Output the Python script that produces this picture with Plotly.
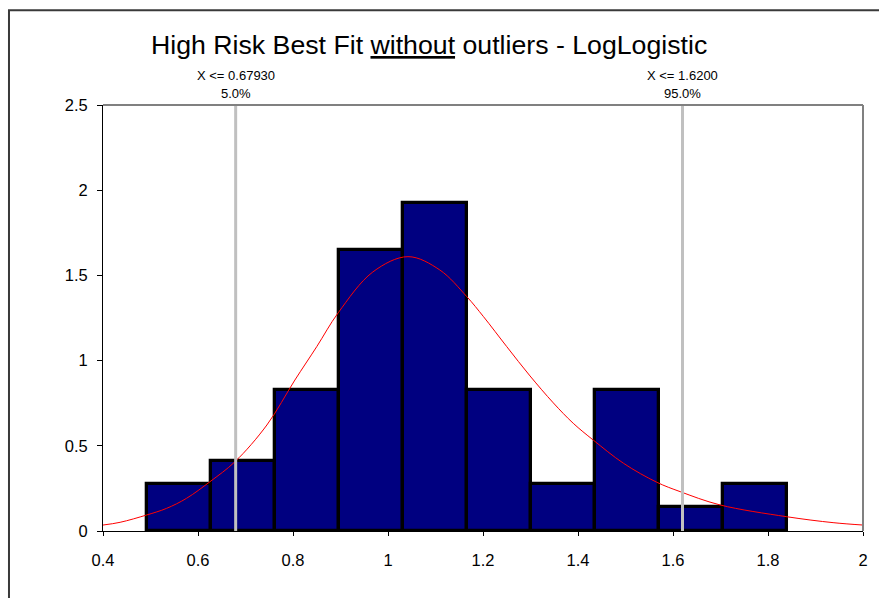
import plotly.graph_objects as go

# Histogram of the high-risk sample (density scale), bins of equal width
bin_start = 0.4933
bin_width = 0.1346
bin_density = [0.275, 0.413, 0.826, 1.651, 1.926, 0.826, 0.275, 0.826, 0.138, 0.275]

# Fitted LogLogistic density, sampled along x
fit_x = [0.400, 0.436, 0.492, 0.534, 0.576, 0.625, 0.678, 0.745, 0.804, 0.850, 0.895,
         0.968, 1.042, 1.109, 1.166, 1.201, 1.250, 1.299, 1.348, 1.390, 1.432, 1.496,
         1.566, 1.615, 1.699, 1.839, 1.937, 2.000]
fit_y = [0.035, 0.051, 0.094, 0.133, 0.192, 0.289, 0.407, 0.622, 0.886, 1.082, 1.280,
         1.520, 1.610, 1.532, 1.375, 1.258, 1.082, 0.910, 0.752, 0.632, 0.534, 0.397,
         0.286, 0.231, 0.153, 0.084, 0.049, 0.035]

# 5% and 95% percentile markers
pct_x = [0.67930, 1.6200]
pct_label = ["X <= 0.67930", "X <= 1.6200"]
pct_level = ["5.0%", "95.0%"]

x_ticks = [0.4, 0.6, 0.8, 1.0, 1.2, 1.4, 1.6, 1.8, 2.0]
x_ticktext = ["0.4", "0.6", "0.8", "1", "1.2", "1.4", "1.6", "1.8", "2"]
y_ticks = [0, 0.5, 1.0, 1.5, 2.0, 2.5]
y_ticktext = ["0", "0.5", "1", "1.5", "2", "2.5"]

FONT = "Arial, Liberation Sans, sans-serif"

bin_centers = [bin_start + bin_width * (i + 0.5) for i in range(len(bin_density))]

fig = go.Figure()
fig.add_trace(go.Bar(
    x=bin_centers, y=bin_density, width=[bin_width] * len(bin_density),
    marker=dict(color="#000080", line=dict(color="black", width=3.3)),
    hoverinfo="x+y", showlegend=False,
))
fig.add_trace(go.Scatter(
    x=fit_x, y=fit_y, mode="lines",
    line=dict(color="#ff0000", width=1, shape="spline", smoothing=1.0),
    showlegend=False,
))

shapes = []
# percentile lines
for px in pct_x:
    shapes.append(dict(type="line", xref="x", yref="y", x0=px, x1=px, y0=0, y1=2.5,
                       line=dict(color="#c0c0c0", width=3), layer="above"))
# gray top and right plot border
shapes.append(dict(type="line", xref="paper", yref="paper", x0=0, x1=1, y0=1, y1=1,
                   line=dict(color="#808080", width=2)))
shapes.append(dict(type="line", xref="paper", yref="paper", x0=1, x1=1, y0=0, y1=1,
                   line=dict(color="#808080", width=2)))
# outer chart frame
shapes.append(dict(type="rect", xref="paper", yref="paper", x0=-0.1237, x1=1.03,
                   y0=-0.17, y1=1.2225, line=dict(color="#3a3a3a", width=2), layer="below"))

annotations = [dict(
    text="High Risk Best Fit <u>without</u> outliers - LogLogistic",
    xref="paper", yref="paper", x=0.429, y=1.141, xanchor="center", yanchor="middle",
    showarrow=False, font=dict(family=FONT, size=26.7, color="black"),
)]
for px, lab, lev in zip(pct_x, pct_label, pct_level):
    annotations.append(dict(text=lab, xref="x", yref="paper", x=px, y=1.0704,
                            xanchor="center", yanchor="middle", showarrow=False,
                            font=dict(family=FONT, size=13, color="black")))
    annotations.append(dict(text=lev, xref="x", yref="paper", x=px, y=1.028,
                            xanchor="center", yanchor="middle", showarrow=False,
                            font=dict(family=FONT, size=13, color="black")))

fig.update_layout(
    width=879, height=598,
    margin=dict(l=103, r=16, t=105, b=67, pad=0),
    paper_bgcolor="white", plot_bgcolor="white",
    bargap=0, shapes=shapes, annotations=annotations,
    font=dict(family=FONT, size=16.5, color="black"),
    xaxis=dict(range=[0.4, 2.0], tickvals=x_ticks, ticktext=x_ticktext,
               showgrid=False, zeroline=False, showline=True, linecolor="black",
               linewidth=1, ticks="outside", ticklen=4, tickcolor="black",
               ticklabelstandoff=10, fixedrange=True),
    yaxis=dict(range=[0, 2.5], tickvals=y_ticks, ticktext=y_ticktext,
               showgrid=False, zeroline=False, showline=True, linecolor="black",
               linewidth=1, ticks="outside", ticklen=5, tickcolor="black",
               ticklabelstandoff=6, fixedrange=True),
)

fig.write_html("out.html")
